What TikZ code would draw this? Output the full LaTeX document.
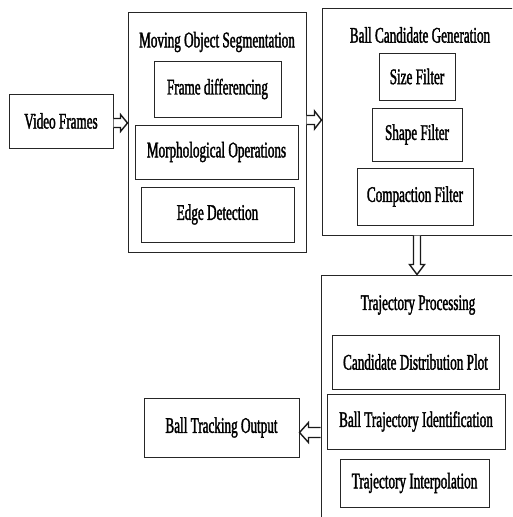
\documentclass[tikz,border=0pt]{standalone}
\usepackage{fontspec}
\setmainfont{Liberation Serif}[FakeStretch=0.59,FakeBold=1.5]
\usetikzlibrary{calc}
\begin{document}
\begin{tikzpicture}[x=1pt,y=-1pt,
  box/.style={draw=black!85, line width=1pt, inner sep=0pt, align=center,
    font=\fontsize{22.3}{24}\selectfont},
  ttl/.style={inner sep=0pt, font=\fontsize{22.3}{24}\selectfont},
  hol/.style={draw=black!90, line width=1.4pt, line join=miter, fill=white}]
\useasboundingbox (0,0) rectangle (512,517);
\clip (0,0) rectangle (512,517);
\fill[white] (0,0) rectangle (512,517);
% Video frames
\node[box, minimum width=104pt, minimum height=54pt] (vf) at (61,121) {Video Frames};
% Moving object segmentation
\node[box, minimum width=178pt, minimum height=240pt] (mos) at (217,132) {};
\node[ttl] (mosT) at (217,42) {Moving Object Segmentation};
\node[box, minimum width=127pt, minimum height=56pt] (fd) at (217.5,89) {Frame differencing};
\node[box, minimum width=163pt, minimum height=54pt] (mo) at (216.5,152) {Morphological Operations};
\node[box, minimum width=153pt, minimum height=55pt] (ed) at (217.5,214.5) {Edge Detection};
% Ball candidate generation
\node[box, minimum width=208pt, minimum height=227pt] (bcg) at (426,121.5) {};
\node[ttl] (bcgT) at (420,35) {Ball Candidate Generation};
\node[box, minimum width=76pt, minimum height=47pt] (sf) at (417,76.5) {Size Filter};
\node[box, minimum width=90pt, minimum height=53pt] (shf) at (417,134.5) {Shape Filter};
\node[box, minimum width=116pt, minimum height=57pt] (cf) at (415,196.5) {Compaction Filter};
% Trajectory processing
\node[box, minimum width=209pt, minimum height=265pt] (tp) at (425.5,407.5) {};
\node[ttl] (tpT) at (418,305) {Trajectory Processing};
\node[box, minimum width=167pt, minimum height=54pt] (cdp) at (415.5,362) {Candidate Distribution Plot};
\node[box, minimum width=178pt, minimum height=55pt] (bti) at (416,421.5) {Ball Trajectory Identification};
\node[box, minimum width=149pt, minimum height=48pt] (ti) at (414.5,483) {Trajectory Interpolation};
% Output
\node[box, minimum width=155pt, minimum height=59pt] (bto) at (221.5,427.5) {Ball Tracking Output};
% hollow arrows (connectors between named nodes)
\coordinate (a1s) at ([yshift=-2pt]vf.east);
\coordinate (a1e) at (a1s -| mos.west);
\draw[hol] ($(a1s)+(0,-4.5)$) -- ($(a1e)+(-7,-4.5)$) -- ($(a1e)+(-7,-8.5)$) -- (a1e)
  -- ($(a1e)+(-7,8.5)$) -- ($(a1e)+(-7,4.5)$) -- ($(a1s)+(0,4.5)$);
\coordinate (a2s) at ([yshift=12pt]mos.east);
\coordinate (a2e) at (a2s -| bcg.west);
\draw[hol] ($(a2s)+(0,-4.5)$) -- ($(a2e)+(-7,-4.5)$) -- ($(a2e)+(-7,-9)$) -- (a2e)
  -- ($(a2e)+(-7,9)$) -- ($(a2e)+(-7,4.5)$) -- ($(a2s)+(0,4.5)$);
\coordinate (a3s) at ([xshift=-9pt]bcg.south);
\coordinate (a3e) at (a3s |- tp.north);
\draw[hol] ($(a3s)+(-3.5,0)$) -- ($(a3e)+(-3.5,-10)$) -- ($(a3e)+(-7.5,-10)$) -- (a3e)
  -- ($(a3e)+(7.5,-10)$) -- ($(a3e)+(3.5,-10)$) -- ($(a3s)+(3.5,0)$);
\coordinate (a4s) at ([yshift=-5pt]bto.east -| tp.west);
\coordinate (a4e) at ([yshift=-5pt]bto.east);
\draw[hol] ($(a4s)+(0,-5)$) -- ($(a4e)+(9,-5)$) -- ($(a4e)+(9,-10)$) -- (a4e)
  -- ($(a4e)+(9,10)$) -- ($(a4e)+(9,5)$) -- ($(a4s)+(0,5)$);
\end{tikzpicture}
\end{document}
